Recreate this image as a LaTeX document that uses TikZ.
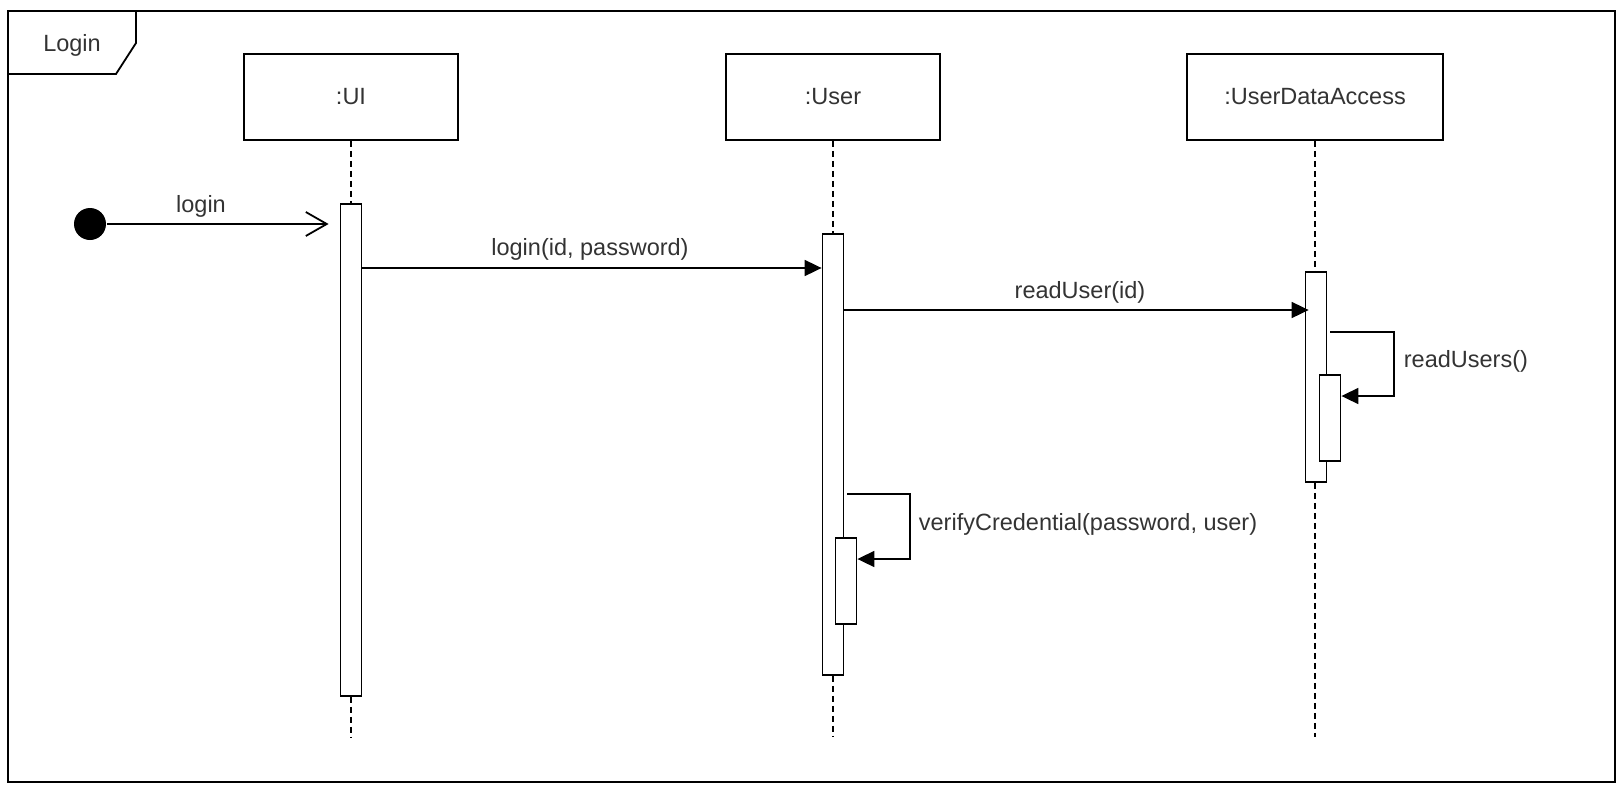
\documentclass[tikz,border=0pt]{standalone}
\usepackage{fontspec}
\setmainfont{Liberation Sans}
\usetikzlibrary{arrows.meta}
\begin{document}
\begin{tikzpicture}[x=1pt,y=-1pt,
  line width=1.8pt,
  font=\fontsize{23.5}{28}\selectfont,
  head/.style={draw, fill=white, minimum height=86pt, inner sep=0pt, text=black!80},
  act/.style={draw, fill=white, minimum width=21pt, inner sep=0pt},
  life/.style={dash pattern=on 6pt off 4pt, line width=1.5pt},
  msg/.style={-{Triangle[length=17pt,width=16pt]}},
  lbl/.style={text=black!80, inner sep=0pt, anchor=base},
]
\useasboundingbox (0,0) rectangle (1621,787);

% sequence frame with its name tab
\draw (8,11) rectangle (1615,782);
\draw (8,74) -- (116,74) -- (136,43) -- (136,11);
\node[lbl] (title) at (72,51) {Login};

% lifeline heads
\node[head, minimum width=214pt] (ui)   at (351,97)  {:UI};
\node[head, minimum width=214pt] (user) at (833,97)  {:User};
\node[head, minimum width=256pt] (uda)  at (1315,97) {:UserDataAccess};

% activation bars
\node[act, minimum height=492pt] (uiact)    at (351,450)  {};
\node[act, minimum height=441pt] (useract)  at (833,454.5) {};
\node[act, minimum height=86pt]  (usernest) at (846,581)  {};
\node[act, minimum height=210pt] (udaact)   at (1316,377) {};
\node[act, minimum height=86pt]  (udanest)  at (1330,418) {};

% lifeline ends
\coordinate (uiend)   at (351,737);
\coordinate (userend) at (833,737);
\coordinate (udaend)  at (1315,737);

% dashed lifelines
\draw[life] (ui.south) -- (uiact.north);
\draw[life] (uiact.south) -- (uiend);
\draw[life] (user.south) -- (useract.north);
\draw[life] (useract.south) -- (userend);
\draw[life] (uda.south) -- (uda.south |- udaact.north);
\draw[life] (uda.south |- udaact.south) -- (udaend);

% found message
\node[circle, fill=black, minimum size=32pt, inner sep=0pt] (start) at (90,224) {};
\draw[-{Straight Barb[length=21pt,width=24pt]}, shorten >=11pt] (start) -- (uiact.west |- start);
\node[lbl] (loginlbl) at (201,212) {login};

% login(id, password)
\draw[msg] (uiact.east |- 0,268) -- (useract.west |- 0,268);
\node[lbl] (m1lbl) at (590,255) {login(id, password)};

% readUser(id)
\draw[msg] (useract.east |- 0,310) -- ([xshift=4pt]udaact.west |- 0,310);
\node[lbl] (m2lbl) at (1080,298) {readUser(id)};

% readUsers() self call
\draw[msg] ([xshift=3pt]udaact.east |- 0,332) -- (1394,332) |- (udanest.east |- 0,396);
\node[lbl, anchor=base west] (m3lbl) at (1403,367) {readUsers()};

% verifyCredential self call
\draw[msg] ([xshift=3pt]useract.east |- 0,494) -- (910,494) |- (usernest.east |- 0,559);
\node[lbl, anchor=base west] (m4lbl) at (918,530) {verifyCredential(password, user)};
\end{tikzpicture}
\end{document}
